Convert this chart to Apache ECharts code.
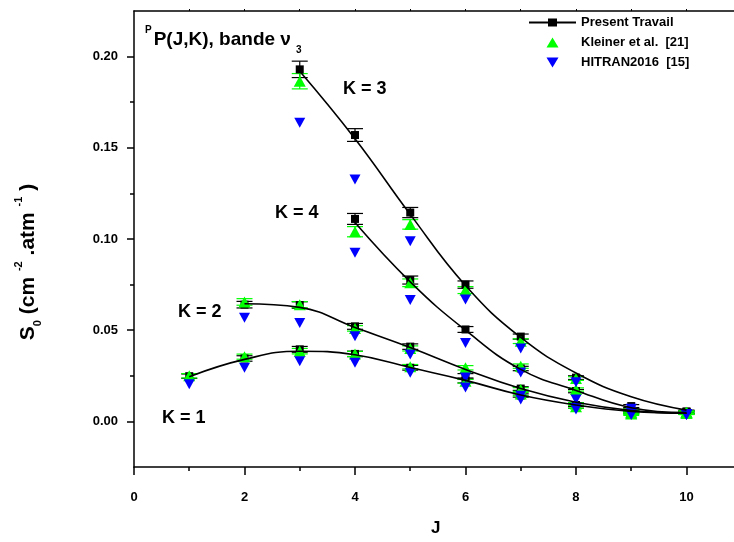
<!DOCTYPE html>
<html>
<head>
<meta charset="utf-8">
<script src="https://cdn.jsdelivr.net/npm/echarts@6/dist/echarts.min.js"></script>
<style>html,body{margin:0;padding:0;background:#fff}#c{width:734px;height:542px}</style>
</head>
<body>
<div id="c"></div>
<script>
// ---- data ----
const J = [1, 2, 3, 4, 5, 6, 7, 8, 9, 10];
const xMajorTicks = [0, 2, 4, 6, 8, 10];
const xMinorTicks = [1, 3, 5, 7, 9];
const yMajorTicks = [0, 0.05, 0.10, 0.15, 0.20];
const yMinorTicks = [0.025, 0.075, 0.125, 0.175];

// Present Travail (black squares)
const presentK1 = [0.0248, 0.0345, 0.0395, 0.0370, 0.0294, 0.0222, 0.0142, 0.0080, 0.0050, 0.0048];
const presentK2 = [null, 0.0640, 0.0638, 0.0521, 0.0410, 0.0250, 0.0180, 0.0090, 0.0055, 0.0050];
const presentK3 = [null, null, 0.1930, 0.1570, 0.1145, 0.0750, 0.0465, 0.0240, 0.0084, 0.0055];
const presentK4 = [null, null, null, 0.1110, 0.0775, 0.0504, 0.0290, 0.0166, 0.0065, 0.0050];
const errK1 = [0.0012, 0.0015, 0.0016, 0.0015, 0.0013, 0.0011, 0.0009, 0.0008, 0.0007, 0.0007];
const errK2 = [null, 0.0018, 0.0018, 0.0016, 0.0015, 0.0012, 0.0010, 0.0008, 0.0007, 0.0007];
const errK3 = [null, null, 0.0045, 0.0035, 0.0028, 0.0020, 0.0014, 0.0010, 0.0008, 0.0007];
const errK4 = [null, null, null, 0.0030, 0.0022, 0.0016, 0.0012, 0.0009, 0.0008, 0.0007];

// fitted curves (Present Travail)
const fitK1 = [0.0245, 0.0340, 0.0385, 0.0365, 0.0295, 0.0225, 0.0145, 0.0090, 0.0055, 0.0045];
const fitK2 = [null, 0.0645, 0.0625, 0.0515, 0.0405, 0.0285, 0.0180, 0.0105, 0.0060, 0.0045];
const fitK3 = [null, null, 0.1920, 0.1550, 0.1135, 0.0745, 0.0460, 0.0265, 0.0135, 0.0062];
const fitK4 = [null, null, null, 0.1090, 0.0765, 0.0500, 0.0285, 0.0170, 0.0075, 0.0048];

// Kleiner et al. [21] (green triangles)
const kleinerK1 = [0.0250, 0.0355, 0.0385, 0.0370, 0.0300, 0.0220, 0.0150, 0.0080, 0.0040, 0.0045];
const kleinerK2 = [null, 0.0655, 0.0640, 0.0510, 0.0400, 0.0294, 0.0175, 0.0095, 0.0045, 0.0045];
const kleinerK3 = [null, null, 0.1865, null, 0.1080, 0.0720, 0.0440, 0.0235, 0.0060, 0.0050];
const kleinerK4 = [null, null, null, 0.1040, 0.0760, null, 0.0303, 0.0175, 0.0050, 0.0050];
const kErrK1 = [0.0012, 0.0014, 0.0015, 0.0014, 0.0012, 0.0010, 0.0009, 0.0008, 0.0007, 0.0007];
const kErrK2 = [null, 0.0018, 0.0017, 0.0015, 0.0014, 0.0012, 0.0010, 0.0008, 0.0007, 0.0007];
const kErrK3 = [null, null, 0.0042, null, 0.0026, 0.0019, 0.0013, 0.0010, 0.0008, 0.0007];
const kErrK4 = [null, null, null, 0.0028, 0.0021, null, 0.0012, 0.0009, 0.0008, 0.0007];

// HITRAN2016 [15] (blue down triangles)
const hitranK1 = [0.0203, 0.0294, 0.0330, 0.0322, 0.0267, 0.0186, 0.0120, 0.0065, 0.0035, 0.0035];
const hitranK2 = [null, 0.0568, 0.0540, 0.0467, 0.0367, 0.0240, 0.0140, 0.0075, 0.0040, 0.0035];
const hitranK3 = [null, null, 0.1637, 0.1326, 0.0988, 0.0668, 0.0400, 0.0215, 0.0070, 0.0040];
const hitranK4 = [null, null, null, 0.0924, 0.0665, 0.0430, 0.0268, 0.0120, 0.0050, 0.0040];

const seriesNames = ['Present Travail', 'Kleiner et al.  [21]', 'HITRAN2016  [15]'];
const kLabels = ['K = 1', 'K = 2', 'K = 3', 'K = 4'];

// ---- helpers ----
const pts = arr => J.map((j, i) => arr[i] == null ? null : [j, arr[i]]).filter(Boolean);
const bars = (vals, errs) => J.map((j, i) => (vals[i] == null || errs[i] == null) ? null : [j, vals[i] - errs[i], vals[i] + errs[i]]).filter(Boolean);

const FONT = 'Liberation Sans, Arial, sans-serif';
const UP = 'path://M6,0 L12,10 L0,10 Z';
const DOWN = 'path://M0,0 L12,0 L6,10 Z';
const PT_ICON = 'path://M0,4 L47,4 L47,6 L0,6 Z M19,1 L28,1 L28,9 L19,9 Z';

function errRender(color, half) {
  return function (params, api) {
    const x = api.value(0);
    const p1 = api.coord([x, api.value(1)]);
    const p2 = api.coord([x, api.value(2)]);
    const st = { stroke: color, lineWidth: 1.2 };
    return {
      type: 'group',
      children: [
        { type: 'line', shape: { x1: p1[0], y1: p1[1], x2: p2[0], y2: p2[1] }, style: st },
        { type: 'line', shape: { x1: p1[0] - half, y1: p1[1], x2: p1[0] + half, y2: p1[1] }, style: st },
        { type: 'line', shape: { x1: p2[0] - half, y1: p2[1], x2: p2[0] + half, y2: p2[1] }, style: st }
      ]
    };
  };
}

const fits = [fitK1, fitK2, fitK3, fitK4];
const presents = [presentK1, presentK2, presentK3, presentK4];
const errs = [errK1, errK2, errK3, errK4];
const kleiners = [kleinerK1, kleinerK2, kleinerK3, kleinerK4];
const kErrs = [kErrK1, kErrK2, kErrK3, kErrK4];
const hitrans = [hitranK1, hitranK2, hitranK3, hitranK4];

const series = [];
fits.forEach(f => series.push({
  type: 'line', name: 'fit', data: pts(f), smooth: 0.45, showSymbol: false, symbol: 'none',
  lineStyle: { color: '#000', width: 1.6 }, silent: true
}));
presents.forEach((p, k) => {
  series.push({ type: 'custom', name: 'errP', data: bars(p, errs[k]), renderItem: errRender('#000', 8) });
  series.push({ type: 'scatter', name: seriesNames[0], data: pts(p), symbol: 'rect', symbolSize: 8, itemStyle: { color: '#000', opacity: 1 } });
});
kleiners.forEach((g, k) => {
  series.push({ type: 'custom', name: 'errK', data: bars(g, kErrs[k]), renderItem: errRender('#00ff00', 8) });
  series.push({ type: 'scatter', name: seriesNames[1], data: pts(g), symbol: UP, symbolSize: [12, 11], itemStyle: { color: '#00ff00', opacity: 1 } });
});
hitrans.forEach(h => series.push({
  type: 'scatter', name: seriesNames[2], data: pts(h), symbol: DOWN, symbolSize: [11, 10], itemStyle: { color: '#0000ff', opacity: 1 }
}));

const axisLine = { show: true, onZero: false, lineStyle: { color: '#000', width: 1.5 } };
const tickStyle = { color: '#000', width: 1.5 };
const labelStyle = { color: '#000', fontFamily: FONT, fontWeight: 'bold', fontSize: 13 };

const option = {
  animation: false,
  backgroundColor: '#fff',
  grid: { left: 134, right: 0, top: 11, bottom: 75, containLabel: false, outerBoundsMode: 'none' },
  legend: {
    orient: 'vertical', left: 524, top: 11, itemWidth: 47, itemHeight: 10, itemGap: 7,
    symbolKeepAspect: true,
    textStyle: { color: '#000', fontFamily: FONT, fontWeight: 'bold', fontSize: 13 },
    data: [
      { name: seriesNames[0], icon: PT_ICON, itemStyle: { color: '#000' } },
      { name: seriesNames[1], icon: UP, itemStyle: { color: '#00ff00', opacity: 1 } },
      { name: seriesNames[2], icon: DOWN, itemStyle: { color: '#0000ff', opacity: 1 } }
    ],
    selectedMode: false
  },
  xAxis: [
    {
      type: 'value', min: 0, max: 10.86, position: 'bottom',
      axisLine, splitLine: { show: false },
      axisTick: { customValues: xMajorTicks, length: 8, lineStyle: tickStyle },
      axisLabel: { customValues: xMajorTicks, margin: 24, ...labelStyle }
    },
    {
      type: 'value', min: 0, max: 10.86, position: 'bottom',
      axisLine: { show: false, onZero: false }, splitLine: { show: false },
      axisTick: { customValues: xMinorTicks, length: 4, lineStyle: tickStyle },
      axisLabel: { show: false }
    },
    {
      type: 'value', min: 0, max: 10.86, position: 'top',
      axisLine, splitLine: { show: false },
      axisTick: { customValues: J, length: 2, lineStyle: { color: '#000', width: 1 } },
      axisLabel: { show: false }
    }
  ],
  yAxis: [
    {
      type: 'value', min: -0.025, max: 0.225, position: 'left',
      axisLine, splitLine: { show: false },
      axisTick: { customValues: yMajorTicks, length: 7, lineStyle: tickStyle },
      axisLabel: { customValues: yMajorTicks, margin: 16, formatter: v => v.toFixed(2), ...labelStyle }
    },
    {
      type: 'value', min: -0.025, max: 0.225, position: 'left',
      axisLine: { show: false, onZero: false }, splitLine: { show: false },
      axisTick: { customValues: yMinorTicks, length: 4, lineStyle: tickStyle },
      axisLabel: { show: false }
    }
  ],
  graphic: [
    {
      type: 'text', left: 145, top: 25,
      style: {
        text: '{sup|P}{m|P(J,K), bande ν}{sub|3}',
        rich: {
          sup: { fontSize: 10, fontWeight: 'bold', fontFamily: FONT, fill: '#000', lineHeight: 12, verticalAlign: 'top' },
          m: { fontSize: 19, fontWeight: 'bold', fontFamily: FONT, fill: '#000', lineHeight: 30, padding: [0, 0, 0, 2] },
          sub: { fontSize: 10, fontWeight: 'bold', fontFamily: FONT, fill: '#000', lineHeight: 12, verticalAlign: 'bottom', padding: [0, 0, 0, 5] }
        }
      }
    },
    { type: 'text', left: 162, top: 409, style: { text: kLabels[0], font: 'bold 18px ' + FONT, fill: '#000' } },
    { type: 'text', left: 178, top: 303, style: { text: kLabels[1], font: 'bold 18px ' + FONT, fill: '#000' } },
    { type: 'text', left: 343, top: 80, style: { text: kLabels[2], font: 'bold 18px ' + FONT, fill: '#000' } },
    { type: 'text', left: 275, top: 204, style: { text: kLabels[3], font: 'bold 18px ' + FONT, fill: '#000' } },
    {
      type: 'text', x: 28, y: 262, rotation: Math.PI / 2,
      style: {
        text: '{m|S}{sub|0}{m| (cm }{sup|-2}{m| .atm }{sup|-1}{m| )}',
        align: 'center', verticalAlign: 'middle',
        rich: {
          m: { fontSize: 21, fontWeight: 'bold', fontFamily: FONT, fill: '#000', lineHeight: 30 },
          sup: { fontSize: 11, fontWeight: 'bold', fontFamily: FONT, fill: '#000', lineHeight: 12, verticalAlign: 'top' },
          sub: { fontSize: 11, fontWeight: 'bold', fontFamily: FONT, fill: '#000', lineHeight: 12, verticalAlign: 'bottom' }
        }
      }
    },
    { type: 'text', left: 431, top: 520, style: { text: 'J', font: 'bold 17px ' + FONT, fill: '#000' } }
  ],
  series
};

const chart = echarts.init(document.getElementById('c'), null, { renderer: 'canvas' });
chart.setOption(option);
</script>
</body>
</html>
